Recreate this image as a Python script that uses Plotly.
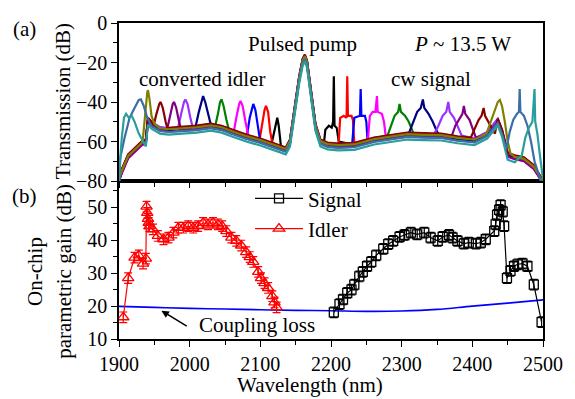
import plotly.graph_objects as go

# ---------------- data: panel (a) transmission spectra ----------------
baseline_nm = [1900, 1904, 1913, 1923, 1932, 1938, 1941, 1946, 1958, 1970, 1990, 2010, 2030,
               2045, 2060, 2080, 2100, 2115, 2128, 2136, 2142, 2148, 2155, 2160, 2163, 2166,
               2172, 2178, 2185, 2195, 2210, 2233, 2261, 2285, 2308, 2332, 2356, 2379, 2403,
               2421, 2436, 2442, 2450, 2460, 2473, 2487, 2497, 2500]
baseline_db = [-79, -75, -67.5, -64, -61, -60, -49, -51, -53.5, -54, -53.5, -53, -52,
               -53, -55, -57.5, -59.5, -61.5, -63, -64, -60, -45, -28, -19, -17, -20,
               -35, -52, -60, -61.5, -62, -61.7, -59, -57.6, -56.5, -56.8, -57, -58.4, -59.3,
               -56, -49.4, -55, -66.7, -68, -69, -73, -79, -80]

trace_colors = ["#000000", "#ff0000", "#0000ff", "#ff00ff", "#008000", "#000080",
                "#9933ff", "#800080", "#8b0000", "#808000", "#3a6ea5", "#2a9d9d"]
trace_offsets = [0.0, -0.6, 0.6, -1.0, 0.4, -0.3, 0.8, -0.8, 1.0, 0.2, -1.2, -2.5]

idler_peaks = [
    [(2116, -61), (2120, -54), (2124, -48), (2126, -52), (2129, -62)],
    [(2099, -59), (2103, -50), (2106, -44), (2108, -42), (2111, -45), (2114, -55), (2117, -61)],
    [(2081, -57), (2085, -48), (2088, -43), (2090, -41), (2093, -44), (2096, -52), (2099, -58)],
    [(2062, -56), (2066, -48), (2070, -41), (2072, -39.5), (2075, -42), (2079, -50), (2083, -57)],
    [(2035, -54), (2040, -46), (2043, -40), (2045, -38.7), (2048, -42), (2052, -49), (2056, -55)],
    [(2008, -53), (2013, -45), (2017, -38.5), (2019, -37), (2022, -40), (2027, -48), (2031, -53)],
    [(1983, -54), (1988, -46), (1992, -40), (1994, -38.7), (1997, -41), (2001, -48), (2005, -54)],
    [(1968, -54), (1972, -47), (1976, -41), (1978, -40), (1981, -43), (1985, -50), (1988, -54)],
    [(1949, -52), (1953, -46), (1957, -41), (1959, -40), (1962, -43), (1966, -50), (1969, -54)],
    [(1934, -58), (1937, -45), (1940, -35), (1941, -34), (1943, -38), (1946, -47), (1950, -51)],
    [(1902, -68), (1908, -58), (1915, -48), (1922, -43), (1928, -39), (1931, -38.7), (1935, -42),
     (1940, -48), (1944, -51)],
    [(1901, -72), (1904, -58), (1907, -48), (1910, -46), (1914, -48), (1918, -47), (1922, -50),
     (1928, -56), (1934, -60)],
]
signal_peaks = [
    [(2190, -61), (2192, -54), (2197, -52), (2201, -53), (2203, -50), (2204, -27), (2205, -52),
     (2208, -53), (2211, -60)],
    [(2211, -60), (2213, -48), (2218, -47), (2222, -48), (2223, -27), (2224, -47), (2229, -47),
     (2231, -49), (2233, -61)],
    [(2230, -61), (2233, -48), (2238, -47.5), (2241, -47), (2242, -33.4), (2243, -47), (2248, -47),
     (2250, -50), (2252, -61)],
    [(2252, -60), (2255, -47), (2259, -45), (2263, -45), (2265, -37), (2266, -45), (2272, -46),
     (2275, -50), (2278, -59)],
    [(2280, -57), (2285, -52), (2290, -47), (2295, -45), (2297, -41), (2299, -45), (2305, -47),
     (2310, -50), (2315, -55), (2318, -57)],
    [(2310, -56), (2316, -50), (2322, -45), (2327, -43), (2330, -38.7), (2332, -43), (2338, -46),
     (2344, -50), (2350, -55), (2354, -57)],
    [(2345, -57), (2352, -52), (2358, -47), (2363, -45), (2366, -40), (2368, -45), (2374, -48),
     (2380, -53), (2385, -57)],
    [(2370, -58), (2376, -52), (2382, -48), (2386, -46), (2388, -42), (2390, -46), (2396, -49),
     (2401, -54), (2405, -58)],
    [(2398, -58), (2404, -53), (2409, -49), (2413, -47), (2416, -43), (2418, -47), (2423, -50),
     (2428, -53), (2432, -56)],
    [(2420, -56), (2426, -50), (2432, -44), (2436, -40), (2439, -39), (2442, -42), (2446, -50),
     (2450, -60), (2454, -66)],
    [(2448, -64), (2453, -55), (2458, -49), (2463, -46), (2466, -45), (2467, -33.4), (2468, -45),
     (2473, -47), (2478, -52), (2483, -60), (2488, -70)],
    [(2470, -67), (2475, -58), (2480, -53), (2485, -50), (2488, -33.4), (2489, -50), (2492, -56),
     (2496, -68), (2500, -79)],
]

# ---------------- data: panel (b) gain ----------------
signal_nm = [2204, 2212, 2217, 2223, 2229, 2233, 2240, 2245, 2251, 2257, 2264, 2274, 2281, 2288,
             2297, 2304, 2313, 2322, 2332, 2341, 2351, 2358, 2367, 2372, 2379, 2388, 2395, 2405,
             2412, 2419, 2431, 2433, 2435, 2438, 2440, 2443, 2445, 2449, 2454, 2459, 2464, 2471,
             2478, 2487, 2498]
signal_gain = [18.1, 20.6, 22.0, 24.0, 25.0, 26.5, 29.0, 30.4, 32.1, 33.4, 35.4, 37.4, 38.8, 39.8,
               41.0, 41.6, 42.3, 41.8, 42.3, 40.8, 39.8, 41.0, 41.6, 40.8, 39.8, 39.0, 39.3, 39.0,
               39.3, 40.3, 42.8, 44.8, 47.7, 49.2, 50.7, 48.7, 44.3, 28.5, 30.7, 32.1, 32.7, 32.9,
               32.1, 26.5, 15.1]
idler_nm = [1906, 1913, 1922, 1928, 1934, 1938, 1939, 1940, 1941, 1942, 1943, 1948, 1955, 1963,
            1970, 1977, 1984, 1991, 1998, 2005, 2012, 2019, 2026, 2033, 2040, 2046, 2052, 2059,
            2066, 2073, 2080, 2085, 2090, 2097, 2101, 2106, 2111, 2117, 2120, 2123]
idler_gain = [16.6, 28.5, 34.7, 35.4, 32.9, 34.4, 50.2, 48.3, 46.5, 45.3, 44.2, 43.3, 41.3, 40.3,
              40.8, 42.3, 43.8, 43.8, 44.3, 43.8, 44.3, 45.3, 44.8, 45.3, 44.8, 44.3, 42.8, 40.8,
              39.8, 38.4, 36.4, 34.9, 33.4, 30.4, 28.5, 27.0, 25.5, 23.0, 21.1, 19.6]
gain_error = 1.6
coupling_nm = [1900, 1950, 2000, 2050, 2100, 2150, 2200, 2250, 2300, 2350, 2400, 2450, 2500]
coupling_db = [19.9, 19.6, 19.3, 19.1, 18.9, 18.7, 18.6, 18.4, 18.5, 19.0, 20.0, 20.9, 21.9]

FONT = "Liberation Serif"
FS = 21

fig = go.Figure()

for i, col in enumerate(trace_colors):
    peaks = idler_peaks[i] + signal_peaks[i]
    windows = [(min(p[0] for p in idler_peaks[i]), max(p[0] for p in idler_peaks[i])),
               (min(p[0] for p in signal_peaks[i]), max(p[0] for p in signal_peaks[i]))]
    pts = [(w, d + trace_offsets[i]) for w, d in zip(baseline_nm, baseline_db)
           if not any(a <= w <= b for a, b in windows)]
    pts += peaks
    pts.sort(key=lambda p: p[0])
    fig.add_trace(go.Scatter(x=[p[0] for p in pts], y=[p[1] for p in pts], mode="lines",
                             line=dict(color=col, width=2.2), showlegend=False,
                             hoverinfo="skip", xaxis="x2", yaxis="y2"))

fig.add_trace(go.Scatter(x=coupling_nm, y=coupling_db, mode="lines", hoverinfo="skip",
                         line=dict(color="#0000ff", width=1.6, shape="spline"), showlegend=False))
fig.add_trace(go.Scatter(x=signal_nm, y=signal_gain, mode="lines+markers", name="Signal",
                         hoverinfo="skip", line=dict(color="black", width=1.2),
                         marker=dict(symbol="square-open", size=9, color="black", line=dict(width=1.3)),
                         error_y=dict(type="constant", value=gain_error, color="black",
                                      thickness=1.2, width=4)))
fig.add_trace(go.Scatter(x=idler_nm, y=idler_gain, mode="lines+markers", name="Idler",
                         hoverinfo="skip", line=dict(color="red", width=1.2),
                         marker=dict(symbol="triangle-up-open", size=10, color="red", line=dict(width=1.3)),
                         error_y=dict(type="constant", value=gain_error, color="red",
                                      thickness=1.2, width=4)))

axfont = dict(family=FONT, size=FS, color="black")
tickfont = dict(family=FONT, size=20, color="black")
base_ax = dict(showgrid=False, zeroline=False, tickcolor="black", tickwidth=1.3)
frame = dict(showline=True, linecolor="black", linewidth=1.5, mirror=True)

fig.update_layout(
    width=575, height=399,
    margin=dict(l=119, r=31, t=15, b=60),
    paper_bgcolor="white", plot_bgcolor="white",
    font=axfont, hovermode=False,
    xaxis=dict(**base_ax, **frame, range=[1900, 2500], dtick=100, domain=[0, 1],
               anchor="y", ticks="outside", ticklen=6,
               minor=dict(dtick=50, ticks="outside", ticklen=4, tickcolor="black"),
               tickfont=tickfont),
    xaxis2=dict(**base_ax, **frame, range=[1900, 2500], dtick=100, domain=[0, 1],
                anchor="y2", ticks="outside", ticklen=5,
                minor=dict(dtick=50, ticks="outside", ticklen=4, tickcolor="black"),
                showticklabels=False),
    yaxis=dict(**base_ax, **frame, domain=[0, 0.5], anchor="x", range=[10, 58], dtick=10,
               ticks="outside", ticklen=6,
               minor=dict(dtick=5, ticks="outside", ticklen=4, tickcolor="black"),
               tickfont=tickfont),
    yaxis2=dict(**base_ax, **frame, domain=[0.5, 1], anchor="x2", range=[-80, 0], dtick=20,
                ticks="outside", ticklen=6,
                minor=dict(dtick=10, ticks="outside", ticklen=4, tickcolor="black"),
                tickfont=tickfont),
    legend=dict(x=0.309, y=0.509, xanchor="left", yanchor="top", bgcolor="rgba(0,0,0,0)",
                font=axfont, tracegroupgap=0, itemwidth=48),
)


def px(v):
    return (v - 119) / 425.0


def py(v):
    return (339 - v) / 324.0


annots = [
    dict(text="(a)", x=px(24), y=py(21)),
    dict(text="(b)", x=px(24), y=py(192)),
    dict(text="Transmission (dB)", x=px(63), y=py(95), textangle=-90),
    dict(text="On-chip", x=px(35), y=py(270), textangle=-90),
    dict(text="parametric gain (dB)", x=px(64), y=py(270), textangle=-90),
    dict(text="Wavelength (nm)", x=px(310), y=py(386)),
    dict(text="converted idler", x=px(203), y=py(72)),
    dict(text="Pulsed pump", x=px(303), y=py(37)),
    dict(text="<i>P</i> ~ 13.5 W", x=px(463), y=py(37)),
    dict(text="cw signal", x=px(432), y=py(72)),
    dict(text="Coupling loss", x=px(257), y=py(325)),
]
for a in annots:
    fig.add_annotation(xref="paper", yref="paper", showarrow=False, font=axfont,
                       xanchor="center", yanchor="middle", **a)

fig.add_annotation(x=1960, y=18.6, ax=1998, ay=13.6, xref="x", yref="y", axref="x", ayref="y",
                   showarrow=True, arrowhead=2, arrowsize=1, arrowwidth=1.5, arrowcolor="black",
                   text="")

fig.write_html("out.html", config={"displayModeBar": False})
